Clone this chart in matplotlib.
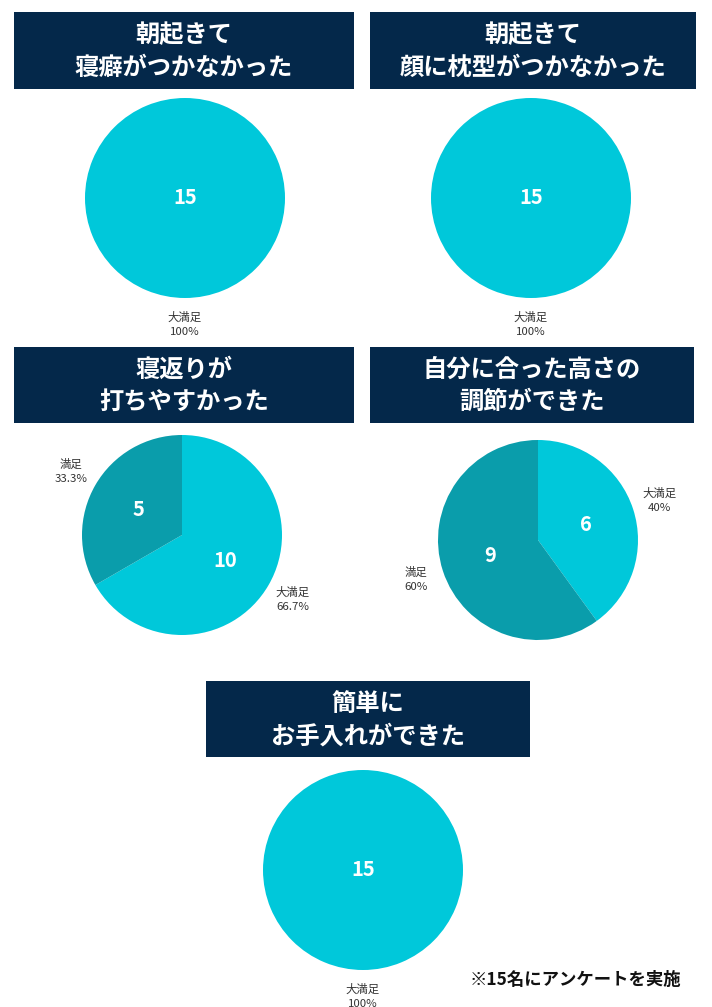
import matplotlib
matplotlib.use("Agg")
import matplotlib.pyplot as plt
from matplotlib.patches import Rectangle

plt.rcParams['font.family'] = ['Noto Sans CJK JP', 'DejaVu Sans']

# ---- data ----
titles = [
    "朝起きて\n寝癖がつかなかった",
    "朝起きて\n顔に枕型がつかなかった",
    "寝返りが\n打ちやすかった",
    "自分に合った高さの\n調節ができた",
    "簡単に\nお手入れができた",
]
categories = [
    ["大満足"],
    ["大満足"],
    ["大満足", "満足"],
    ["大満足", "満足"],
    ["大満足"],
]
values = [
    [15],
    [15],
    [10, 5],
    [6, 9],
    [15],
]
footnote = "※15名にアンケートを実施"

# ---- layout (pixels, top-left origin) ----
W, H = 712, 1007
boxes = [(14, 12, 354, 89), (370, 12, 696, 89), (14, 347, 354, 423),
         (370, 347, 694, 423), (206, 681, 530, 757)]
centers = [(185, 198), (531, 198), (182, 535), (538, 540), (363, 870)]
radius = 100
colors = ["#00C8DA", "#0A9DAB"]
navy = "#04284A"

fig = plt.figure(figsize=(W / 100, H / 100), dpi=100)
ax = fig.add_axes([0, 0, 1, 1])
ax.set_xlim(0, W)
ax.set_ylim(0, H)
ax.set_aspect('equal')
ax.axis('off')


def fmt_pct(p):
    s = f"{p:.1f}"
    if s.endswith(".0"):
        s = s[:-2]
    return s + "%"


for title, cats, vals, box, c in zip(titles, categories, values, boxes, centers):
    x0, y0, x1, y1 = box
    ax.add_patch(Rectangle((x0, H - y1), x1 - x0, y1 - y0, facecolor=navy,
                           edgecolor='none'))
    ax.text((x0 + x1) / 2, H - (y0 + y1) / 2 - 1, title, ha='center', va='center',
            color='white', fontsize=17.5, fontweight='bold', linespacing=1.45)

    total = sum(vals)
    labels = [f"{cat}\n{fmt_pct(v / total * 100)}" for cat, v in zip(cats, vals)]
    wedges, texts, autotexts = ax.pie(
        vals, labels=labels, colors=colors[:len(vals)], center=(c[0], H - c[1]),
        radius=radius, startangle=90, counterclock=False,
        autopct=lambda p, t=total: f"{round(p * t / 100):d}",
        pctdistance=0 if len(vals) == 1 else 0.5,
        labeldistance=1.26 if len(vals) == 1 else 1.28,
        wedgeprops=dict(linewidth=0), frame=True)
    for t in texts:
        t.set_ha('center')
        t.set_va('center')
        t.set_multialignment('center')
        t.set_fontsize(8.2)
        t.set_color('#333333')
        t.set_linespacing(1.5)
    for t in autotexts:
        t.set_color('white')
        t.set_fontsize(14.5)
        t.set_fontweight('bold')

ax.set_xlim(0, W)
ax.set_ylim(0, H)
ax.set_aspect('equal')
ax.axis('off')

ax.text(575, H - 980, footnote, ha='center', va='center', fontsize=12.5,
        fontweight='bold', color='#111111')

fig.savefig("out.png", dpi=100, facecolor='white')
